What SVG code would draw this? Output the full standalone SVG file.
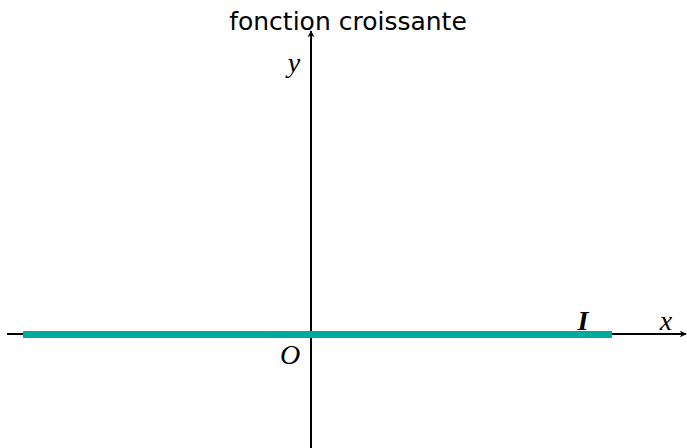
<svg xmlns="http://www.w3.org/2000/svg" width="687" height="448" viewBox="0 0 687 448">
<defs>
<marker id="arr" viewBox="0 0 10 10" refX="9" refY="5" markerWidth="7" markerHeight="7" orient="auto" markerUnits="userSpaceOnUse">
<path d="M0,0 L10,5 L0,10 L3,5 Z" fill="#000"/>
</marker>
<style>
.ax{stroke:#000;stroke-width:2;fill:none}
.m{font-family:"Liberation Serif",serif;font-style:italic;font-size:28px;fill:#000}
</style>
</defs>
<rect width="687" height="448" fill="#fff"/>
<g id="connectors">
<line class="ax" x1="7" y1="334" x2="686" y2="334" marker-end="url(#arr)"/>
<line class="ax" x1="311" y1="448" x2="311" y2="31" marker-end="url(#arr)"/>
</g>
<g id="interval">
<line x1="23" y1="334.5" x2="612" y2="334.5" stroke="#00A99D" stroke-width="7"/>
<text x="583" y="330" text-anchor="middle" font-family="Liberation Serif,serif" font-style="italic" font-weight="bold" font-size="28">I</text>
</g>
<g id="title"><text x="348" y="30" text-anchor="middle" font-family="DejaVu Sans,sans-serif" font-size="25">fonction croissante</text></g>
<g id="labels">
<text class="m" x="666" y="330" text-anchor="middle">x</text>
<text class="m" x="294" y="72" text-anchor="middle">y</text>
<text class="m" x="290" y="364" text-anchor="middle">O</text>
</g>
</svg>
